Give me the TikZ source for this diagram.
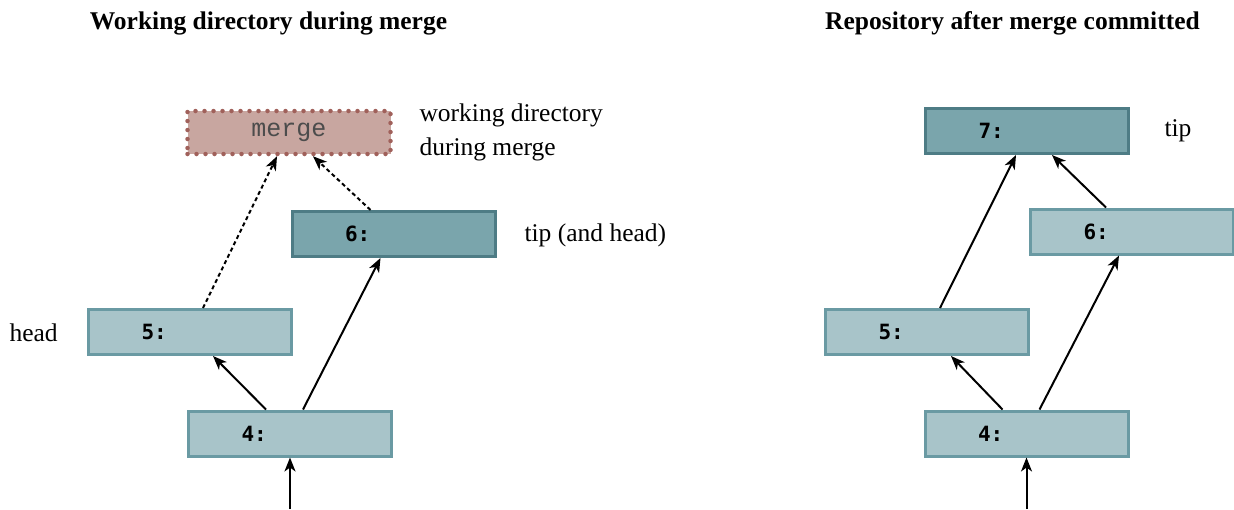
\documentclass[tikz,border=0pt]{standalone}
\usepackage{fontspec}
\setmainfont{Liberation Serif}
\setmonofont{DejaVu Sans Mono}
\newfontfamily\courierfont{Liberation Mono}
\usetikzlibrary{calc,arrows.meta}

\definecolor{commitfill}{HTML}{A8C4C9}
\definecolor{commitline}{HTML}{6A9AA3}
\definecolor{tipfill}{HTML}{7AA5AC}
\definecolor{tipline}{HTML}{4E7C85}
\definecolor{wdirfill}{HTML}{C8A6A0}
\definecolor{wdirline}{HTML}{A0605A}

\tikzset{
  commit/.style={draw=commitline,fill=commitfill,line width=3pt,
    minimum height=45pt,text width=97pt,inner xsep=53pt,align=left,
    font=\fontsize{21}{24}\selectfont\ttfamily\bfseries},
  tipcommit/.style={commit,draw=tipline,fill=tipfill},
  wdir/.style={draw=wdirline,fill=wdirfill,line width=4.5pt,line cap=round,
    dash pattern=on 0pt off 9pt,
    minimum width=203pt,minimum height=43pt,
    font=\fontsize{25}{28}\selectfont\courierfont,text=black!70},
  note/.style={align=left,anchor=west,font=\fontsize{25.5}{34}\selectfont},
  heading/.style={font=\fontsize{25.5}{28}\selectfont\bfseries},
  link/.style={line width=2pt,-{Stealth[length=14pt,width=11pt,inset=4pt]}},
  pending/.style={link,dash pattern=on 4pt off 3pt}
}

\begin{document}
\begin{tikzpicture}[x=1pt,y=-1pt]
        \useasboundingbox (0,0) rectangle (1234,509);

        % Headings
        \node[heading] (hl) at (268.5,23) {Working directory during merge};
        \node[heading] (hr) at (1012.5,23) {Repository after merge committed};

        % Left: during merge
        \node[wdir] (wd) at (289,132.5) {merge};
        \node[tipcommit] (l6) at (393.5,234) {6:};
        \node[commit] (l5) at (190,332) {5:};
        \node[commit] (l4) at (290,433.5) {4:};
        \coordinate (l3) at (290,509);

        \draw[link] (l3) -- (l4.south);
        \draw[link] ($(l4.north)+(-24,0)$) -- ($(l5.south)+(23,0)$);
        \draw[link] ($(l4.north)+(13,0)$) -- ($(l6.south)+(-13,0)$);
        \draw[pending] ($(l5.north)+(13,0)$) -- ($(wd.south)+(-12,0)$);
        \draw[pending] ($(l6.north)+(-23,0)$) -- ($(wd.south)+(24,0)$);

        \node[note] (wdnote) at (416,132) {working directory\\during merge};
        \node[note] (l6note) at (521,235) {tip (and head)};
        \node[note] (l5note) at (6,333) {head};

        % Right: after merge committed
        \node[tipcommit] (r7) at (1027,131) {7:};
        \node[commit] (r6) at (1132,231.5) {6:};
        \node[commit] (r5) at (927,332) {5:};
        \node[commit] (r4) at (1026.5,433.5) {4:};
        \coordinate (r3) at (1026.5,509);

        \draw[link] (r3) -- (r4.south);
        \draw[link] ($(r4.north)+(-24,0)$) -- ($(r5.south)+(24,0)$);
        \draw[link] ($(r4.north)+(13,0)$) -- ($(r6.south)+(-13,0)$);
        \draw[link] ($(r5.north)+(13,0)$) -- ($(r7.south)+(-11,0)$);
        \draw[link] ($(r6.north)+(-26,0)$) -- ($(r7.south)+(25,0)$);

        \node[note] (r7note) at (1161,131) {tip};
    \end{tikzpicture}
\end{document}
